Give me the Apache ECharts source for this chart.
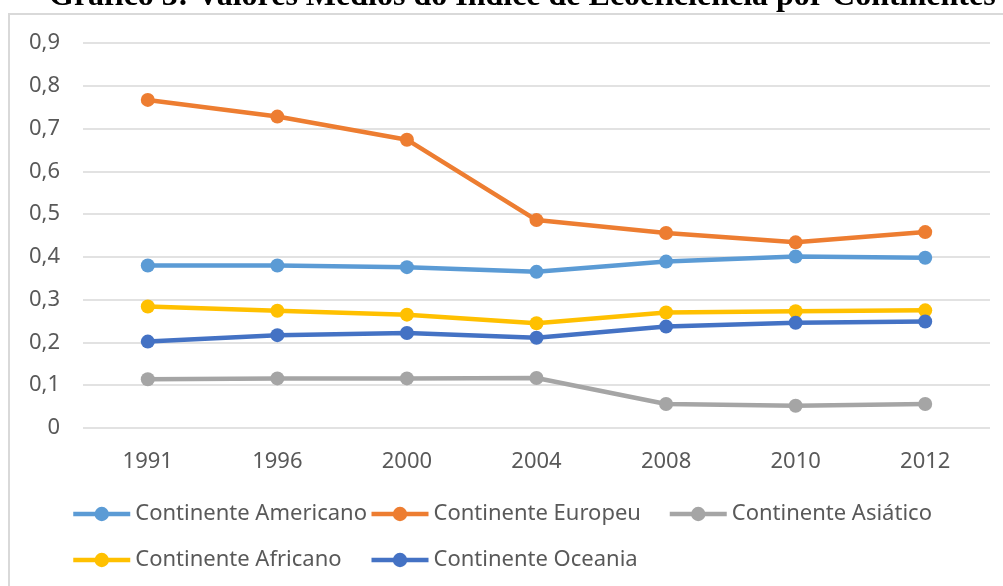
<!DOCTYPE html>
<html>
<head>
<meta charset="utf-8">
<title>Gráfico 3</title>
<script src="https://cdn.jsdelivr.net/npm/echarts@6/dist/echarts.min.js"></script>
<style>
  html, body { margin: 0; padding: 0; background: #fff; }
  #chart { width: 1003px; height: 586px; }
</style>
</head>
<body>
<div id="chart"></div>
<script>
// anos (eixo x)
var anos = ['1991', '1996', '2000', '2004', '2008', '2010', '2012']
// valores
var americano = [0.380, 0.380, 0.376, 0.365, 0.389, 0.401, 0.398]
var europeu = [0.767, 0.728, 0.674, 0.486, 0.456, 0.434, 0.458]
var asiatico = [0.114, 0.116, 0.116, 0.117, 0.056, 0.052, 0.056]
var africano = [0.284, 0.274, 0.265, 0.245, 0.270, 0.273, 0.275]
var oceania = [0.202, 0.217, 0.222, 0.211, 0.237, 0.246, 0.249]

var nomes = [
  'Continente Americano',
  'Continente Europeu',
  'Continente Asiático',
  'Continente Africano',
  'Continente Oceania',
]
var cores = ['#5B9BD5', '#ED7D31', '#A5A5A5', '#FFC000', '#4472C4']
var valores = [americano, europeu, asiatico, africano, oceania]

var fonte = '"Noto Sans", sans-serif'
var cinza = '#595959'

function legenda(top, data) {
  return {
    top: top,
    left: 66,
    itemWidth: 57,
    itemHeight: 18,
    itemGap: 2,
    data: data,
    lineStyle: { width: 4.5 },
    textStyle: {
      fontFamily: fonte,
      fontSize: 22,
      color: cinza,
      width: 232,
      lineHeight: 24,
    },
  }
}

var chart = echarts.init(document.getElementById('chart'), null, { renderer: 'canvas' })

chart.setOption({
  animation: false,
  backgroundColor: '#fff',
  title: {
    text: 'Gráfico 3: Valores Médios do Índice de Ecoeficiência por Continentes',
    left: 44,
    top: -24,
    textStyle: {
      fontFamily: '"Liberation Serif", serif',
      fontWeight: 'bold',
      fontSize: 32,
      color: '#000',
    },
  },
  graphic: [
    {
      type: 'rect',
      z: -10,
      shape: { x: 9, y: 14, width: 1100, height: 700 },
      style: { fill: '#fff', stroke: '#d9d9d9', lineWidth: 2 },
    },
  ],
  grid: {
    left: 83,
    right: 13,
    top: 43,
    bottom: 158,
  },
  legend: [legenda(497, nomes.slice(0, 3)), legenda(543, nomes.slice(3))],
  xAxis: {
    type: 'category',
    data: anos,
    boundaryGap: true,
    axisLine: { show: false },
    axisTick: { show: false },
    axisLabel: {
      margin: 23,
      fontFamily: fonte,
      fontSize: 22,
      color: cinza,
    },
  },
  yAxis: {
    type: 'value',
    min: 0,
    max: 0.9,
    interval: 0.1,
    axisLine: { show: false },
    axisTick: { show: false },
    axisLabel: {
      margin: 23,
      fontFamily: fonte,
      fontSize: 22,
      color: cinza,
      formatter: function (v) {
        return String(Math.round(v * 10) / 10).replace('.', ',')
      },
    },
    splitLine: {
      lineStyle: { color: '#d9d9d9', width: 1.5 },
    },
  },
  series: nomes.map(function (nome, i) {
    return {
      name: nome,
      type: 'line',
      data: valores[i],
      symbol: 'circle',
      symbolSize: 14,
      color: cores[i],
      lineStyle: { color: cores[i], width: 4.5 },
      itemStyle: { color: cores[i] },
    }
  }),
})
</script>
</body>
</html>
